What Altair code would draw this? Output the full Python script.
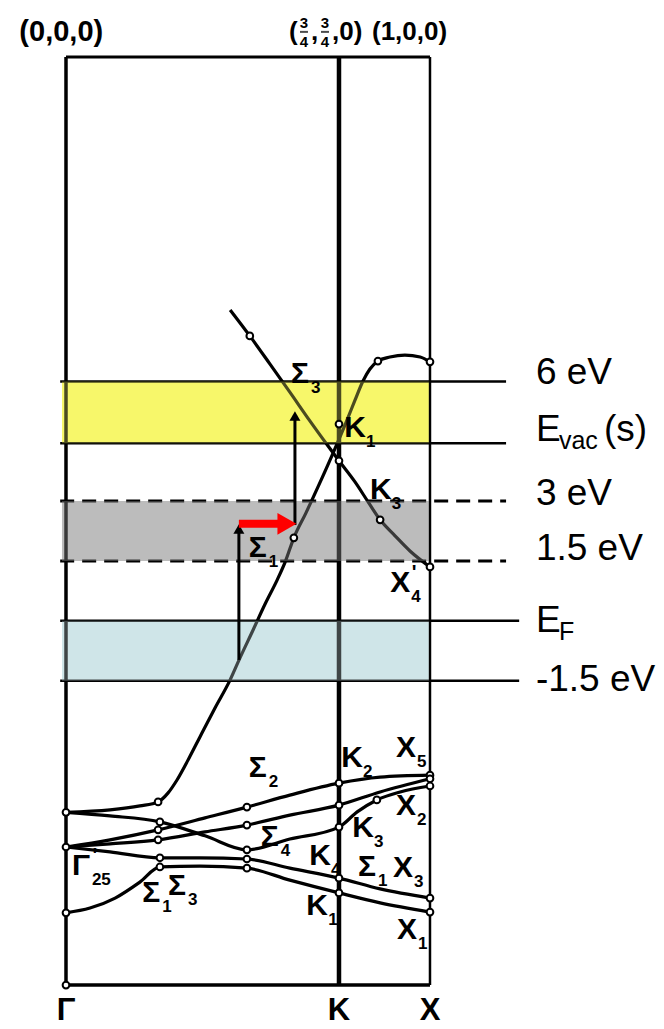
import altair as alt
import pandas as pd

# Path coordinate along Γ → K → X (Γ = 0, K = 0.75, X = 1); energy in eV with E_F = 0
K_DOMAIN = [-0.1813, 1.6429]
E_DOMAIN = [-10.231, 15.559]
FRAME_TOP, FRAME_BOTTOM = 14.13, -9.13
K_POINTS = [0.0, 0.75, 1.0]

xs = alt.Scale(domain=K_DOMAIN, nice=False, zero=False)
ys = alt.Scale(domain=E_DOMAIN, nice=False, zero=False)


def xq(field="k"):
    return alt.X(f"{field}:Q", scale=xs, axis=None)


def yq(field="E"):
    return alt.Y(f"{field}:Q", scale=ys, axis=None)


# ---------------- reference levels ----------------
level_E = [6.0, 4.45, 3.0, 1.5, 0.0, -1.5]
level_dashed = [False, False, True, True, False, False]
level_end = [1.209, 1.209, 1.209, 1.209, 1.245, 1.245]

band_top = [6.0, 3.0, 0.0]
band_bottom = [4.45, 1.5, -1.5]
band_color = ["#f7f76a", "#bcbcbc", "#cfe6e8"]

# ---------------- bands (k, E) ----------------
sigma1_k = [0, 0.121, 0.203, 0.253, 0.280, 0.305, 0.341, 0.368, 0.409, 0.451, 0.478,
            0.514, 0.547, 0.580, 0.602, 0.626, 0.659, 0.692, 0.734, 0.772, 0.794,
            0.816, 0.835, 0.857, 0.890, 0.931, 0.973, 1.0]
sigma1_E = [-4.80, -4.74, -4.64, -4.54, -4.32, -3.99, -3.39, -2.91, -2.19, -1.48, -0.93,
            -0.23, 0.42, 1.02, 1.47, 2.08, 2.70, 3.35, 4.21, 5.03, 5.53,
            6.01, 6.31, 6.51, 6.61, 6.66, 6.61, 6.49]

sigma3_k = [0.451, 0.505, 0.560, 0.615, 0.670, 0.720, 0.75, 0.794, 0.830, 0.863, 0.904, 0.945, 1.0]
sigma3_E = [7.79, 7.14, 6.44, 5.73, 5.01, 4.38, 4.01, 3.48, 2.98, 2.53, 2.13, 1.75, 1.35]

d1_k = [0, 0.121, 0.258, 0.382, 0.497, 0.615, 0.75, 0.80, 0.854, 0.918, 1.0]
d1_E = [-4.80, -4.89, -5.04, -5.39, -5.74, -5.47, -5.17, -4.79, -4.49, -4.29, -4.14]

d2_k = [0, 0.121, 0.253, 0.382, 0.497, 0.615, 0.75, 0.863, 1.0]
d2_E = [-5.67, -5.49, -5.24, -4.94, -4.67, -4.37, -4.07, -3.92, -3.87]

d3_k = [0, 0.121, 0.253, 0.382, 0.497, 0.615, 0.75, 0.863, 1.0]
d3_E = [-5.67, -5.59, -5.49, -5.29, -5.12, -4.87, -4.62, -4.29, -3.96]

d4_k = [0, 0.121, 0.258, 0.368, 0.497, 0.615, 0.75, 0.863, 1.0]
d4_E = [-5.67, -5.79, -5.94, -5.94, -5.97, -6.20, -6.45, -6.72, -6.95]

d5_k = [0, 0.066, 0.135, 0.203, 0.258, 0.368, 0.497, 0.615, 0.75, 0.863, 1.0]
d5_E = [-7.32, -7.20, -6.95, -6.55, -6.17, -6.15, -6.20, -6.50, -6.82, -7.07, -7.30]

bands = {
    "sigma1": (sigma1_k, sigma1_E),
    "sigma3": (sigma3_k, sigma3_E),
    "d1": (d1_k, d1_E),
    "d2": (d2_k, d2_E),
    "d3": (d3_k, d3_E),
    "d4": (d4_k, d4_E),
    "d5": (d5_k, d5_E),
}

# computed points drawn as open circles
pt_k = [0.505, 0.626, 0.863, 1.0, 0.857, 1.0, 0.75, 0.75,
        0, 0, 0, 0,
        0.253, 0.258, 0.253, 0.253, 0.258, 0.258,
        0.497, 0.497, 0.497, 0.497, 0.497,
        0.75, 0.75, 0.75, 0.75, 0.75, 0.854,
        1.0, 1.0, 1.0, 1.0, 1.0]
pt_E = [7.14, 2.08, 2.53, 1.35, 6.51, 6.49, 4.93, 4.01,
        -4.80, -5.67, -7.32, FRAME_BOTTOM,
        -4.54, -5.04, -5.24, -5.49, -5.94, -6.17,
        -4.67, -5.12, -5.74, -5.97, -6.20,
        -4.07, -4.62, -5.17, -6.45, -6.82, -4.49,
        -3.87, -3.96, -4.14, -6.95, -7.30]

# symmetry labels: letter, subscript, anchor (k, E)
lab_main = ["Σ", "K", "K", "Σ", "X", "Σ", "K", "X", "X", "K", "Σ", "K", "Σ", "X",
            "K", "X", "Γ", "Σ", "Σ"]
lab_sub = ["3", "1", "3", "1", "4", "2", "2", "5", "2", "3", "4", "4", "1", "3",
           "1", "1", "25", "1", "3"]
lab_k = [0.643, 0.794, 0.865, 0.527, 0.918, 0.527, 0.786, 0.934, 0.934, 0.816, 0.560,
         0.698, 0.827, 0.926, 0.690, 0.937, 0.041, 0.234, 0.305]
lab_E = [6.19, 4.83, 3.28, 1.83, 0.95, -3.69, -3.44, -3.19, -4.64, -5.19, -5.42,
         -5.90, -6.17, -6.20, -7.15, -7.75, -6.15, -6.82, -6.65]
prime_k = [0.918, 0.041]
prime_E = [0.95, -6.15]

# right-hand level captions
cap_text = ["6 eV", "E", "3 eV", "1.5 eV", "E", "-1.5 eV"]
cap_E = [6.21, 4.78, 3.18, 1.80, 0.0, -1.48]
CAP_K = 1.291

# transitions
arrow_k = [0.475, 0.629]
arrow_E0 = [-0.98, 2.40]
arrow_E1 = [2.30, 5.13]
red_E = 2.43
red_k0, red_k1, red_head = 0.475, 0.585, 0.607

# high-symmetry points and their wave-vector coordinates
sym_text = ["Γ", "K", "X"]
SYM_E = -10.0
COORD_E = 14.76
coord_piece = ["(0,0,0)", "(", ",", ",0)", "(1,0,0)"]
coord_piece_k = [-0.013, 0.6126, 0.6731, 0.7308, 0.8407]
coord_piece_align = ["center", "left", "left", "left", "left"]
frac_k = [0.6538, 0.7115]
frac_num, frac_den = "3", "4"
FRAC_NUM_E, FRAC_DEN_E = 14.98, 14.51

FONT_LAB = "Liberation Sans"

# ---------------- layers ----------------
band_df = pd.DataFrame({"top": band_top, "bottom": band_bottom, "c": band_color,
                        "k0": [-0.011] * 3, "k1": [0.997] * 3})
band_rect = alt.Chart(band_df).mark_rect().encode(
    x=xq("k0"), x2="k1", y=yq("top"), y2="bottom",
    color=alt.Color("c:N", scale=None))
band_tint = alt.Chart(band_df).mark_rect(opacity=0.3).encode(
    x=xq("k0"), x2="k1", y=yq("top"), y2="bottom",
    color=alt.Color("c:N", scale=None))

lvl_df = pd.DataFrame({"E": level_E, "dashed": level_dashed, "k1": level_end,
                       "k0": [-0.016] * len(level_E)})
lvl_solid = alt.Chart(lvl_df[~lvl_df.dashed]).mark_rule(
    color="black", strokeWidth=2.5).encode(x=xq("k0"), x2="k1", y=yq("E"))
lvl_dash = alt.Chart(lvl_df[lvl_df.dashed]).mark_rule(
    color="black", strokeWidth=3, strokeDash=[14, 8]).encode(x=xq("k0"), x2="k1", y=yq("E"))

frame_df = pd.DataFrame({
    "k": K_POINTS + [0.0, 0.0],
    "k2": K_POINTS + [1.0, 1.0],
    "E": [FRAME_BOTTOM] * 3 + [FRAME_TOP, FRAME_BOTTOM],
    "E2": [FRAME_TOP] * 3 + [FRAME_TOP, FRAME_BOTTOM],
    "w": [3.5, 4.5, 2.5, 3, 3.5],
})
frame = alt.Chart(frame_df).mark_rule(color="black").encode(
    x=xq("k"), x2="k2", y=yq("E"), y2="E2", size=alt.Size("w:Q", scale=None))

rows = []
for name, (ks, es) in bands.items():
    for i, (kk, ee) in enumerate(zip(ks, es)):
        rows.append({"band": name, "i": i, "k": kk, "E": ee})
curve_df = pd.DataFrame(rows)
curves = alt.Chart(curve_df).mark_line(
    color="black", strokeWidth=3.2, interpolate="monotone").encode(
    x=xq(), y=yq(), detail="band:N", order="i:Q")

pts = alt.Chart(pd.DataFrame({"k": pt_k, "E": pt_E})).mark_point(
    shape="circle", filled=True, fill="white", stroke="black", strokeWidth=2,
    size=45, opacity=1).encode(x=xq(), y=yq())

arr_df = pd.DataFrame({"k": arrow_k, "E0": arrow_E0, "E1": arrow_E1})
arr_shaft = alt.Chart(arr_df).mark_rule(color="black", strokeWidth=3).encode(
    x=xq(), y=yq("E0"), y2="E1")
arr_head = alt.Chart(arr_df).mark_point(
    shape="triangle-up", filled=True, color="black", size=120, opacity=1).encode(
    x=xq(), y=yq("E1"))

red_df = pd.DataFrame({"k0": [red_k0], "k1": [red_k1], "kh": [red_head], "E": [red_E]})
red_shaft = alt.Chart(red_df).mark_rule(color="#ff0000", strokeWidth=8).encode(
    x=xq("k0"), x2="k1", y=yq())
red_head_mark = alt.Chart(red_df).mark_point(
    shape="triangle-right", filled=True, color="#ff0000", size=480, opacity=1).encode(
    x=xq("kh"), y=yq())

lab_df = pd.DataFrame({"t": lab_main, "s": lab_sub, "k": lab_k, "E": lab_E})
lab_main_txt = alt.Chart(lab_df).mark_text(
    font=FONT_LAB, fontSize=30, fontWeight="bold", color="black").encode(
    x=xq(), y=yq(), text="t:N")
lab_sub_txt = alt.Chart(lab_df).mark_text(
    font=FONT_LAB, fontSize=17, fontWeight="bold", color="black", align="left",
    dx=11, dy=14).encode(x=xq(), y=yq(), text="s:N")
prime_txt = alt.Chart(pd.DataFrame({"k": prime_k, "E": prime_E})).mark_text(
    font=FONT_LAB, fontSize=20, fontWeight="bold", color="black", dx=14, dy=-10,
    text="'").encode(x=xq(), y=yq())

cap_df = pd.DataFrame({"t": cap_text, "E": cap_E, "k": [CAP_K] * len(cap_text)})
cap_txt = alt.Chart(cap_df).mark_text(
    font="Liberation Sans", fontSize=37, align="left", baseline="middle",
    color="black").encode(x=xq(), y=yq(), text="t:N")
sub_df = pd.DataFrame({"t": ["vac", "F"], "E": [cap_E[1], cap_E[4]], "k": [CAP_K] * 2})
cap_sub = alt.Chart(sub_df).mark_text(
    font="Liberation Sans", fontSize=25, align="left", baseline="middle",
    dx=23, dy=11, color="black").encode(x=xq(), y=yq(), text="t:N")
paren_df = pd.DataFrame({"t": ["(s)"], "E": [cap_E[1]], "k": [CAP_K]})
cap_paren = alt.Chart(paren_df).mark_text(
    font="Liberation Sans", fontSize=37, align="left", baseline="middle",
    dx=68, color="black").encode(x=xq(), y=yq(), text="t:N")

sym_df = pd.DataFrame({"t": sym_text, "k": K_POINTS, "E": [SYM_E] * 3})
sym_txt = alt.Chart(sym_df).mark_text(
    font=FONT_LAB, fontSize=31, fontWeight="bold", baseline="alphabetic",
    color="black").encode(x=xq(), y=yq(), text="t:N")

coord_df = pd.DataFrame({"t": coord_piece, "k": coord_piece_k,
                         "a": coord_piece_align, "E": [COORD_E] * len(coord_piece)})
coord_center = alt.Chart(coord_df[coord_df.a == "center"]).mark_text(
    font=FONT_LAB, fontSize=29, fontWeight="bold", baseline="middle",
    color="black").encode(x=xq(), y=yq(), text="t:N")
coord_left = alt.Chart(coord_df[coord_df.a == "left"]).mark_text(
    font=FONT_LAB, fontSize=26, fontWeight="bold", baseline="middle", align="left",
    color="black").encode(x=xq(), y=yq(), text="t:N")
frac_df = pd.DataFrame({
    "k": frac_k * 2,
    "E": [FRAC_NUM_E] * 2 + [FRAC_DEN_E] * 2,
    "t": [frac_num] * 2 + [frac_den] * 2,
})
frac_txt = alt.Chart(frac_df).mark_text(
    font=FONT_LAB, fontSize=15, fontWeight="bold", baseline="middle",
    color="black").encode(x=xq(), y=yq(), text="t:N")
frac_bar = alt.Chart(pd.DataFrame({"k": frac_k, "E": [COORD_E] * 2})).mark_tick(
    color="black", thickness=2, size=8, orient="horizontal").encode(x=xq(), y=yq())

chart = alt.layer(
    band_rect, lvl_solid, lvl_dash, frame, curves, band_tint, pts,
    arr_shaft, arr_head, red_shaft, red_head_mark,
    lab_main_txt, lab_sub_txt, prime_txt,
    cap_txt, cap_sub, cap_paren, sym_txt,
    coord_center, coord_left, frac_txt, frac_bar,
).properties(
    width=664, height=1029, padding=0, autosize="none", background="white"
).configure_view(stroke=None)

chart.save("out.html", embed_options={"renderer": "svg", "actions": False})
